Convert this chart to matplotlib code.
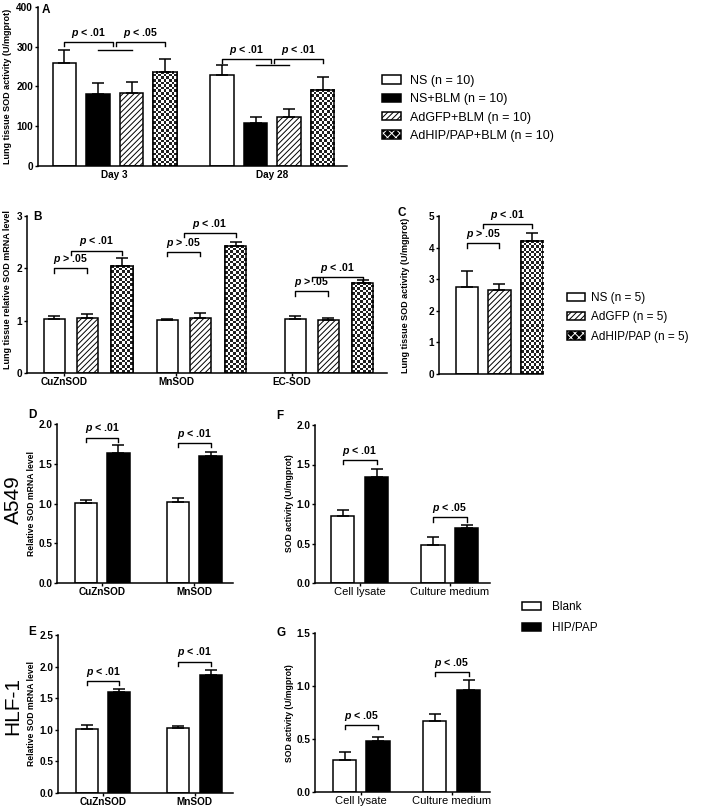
import numpy as np
import matplotlib
matplotlib.use('Agg')
import matplotlib.pyplot as plt
from matplotlib.patches import Patch
from matplotlib.ticker import FormatStrFormatter

W, H = 709, 808

plt.rcParams['font.family'] = ['Liberation Sans', 'DejaVu Sans']
plt.rcParams['font.weight'] = 'bold'
plt.rcParams['mathtext.fontset'] = 'custom'
plt.rcParams['mathtext.it'] = 'Liberation Sans:italic:bold'
plt.rcParams['mathtext.rm'] = 'Liberation Sans:bold'
plt.rcParams['hatch.linewidth'] = 0.7

# ---- data ----
# A: lung tissue SOD activity, day 3 / day 28
a_groups = ['NS (n = 10)', 'NS+BLM (n = 10)', 'AdGFP+BLM (n = 10)', 'AdHIP/PAP+BLM (n = 10)']
a_days = ['Day 3', 'Day 28']
a_mean = [260, 180, 184, 237, 228, 108, 123, 192]
a_sem = [32, 29, 28, 32, 25, 15, 20, 31]
a_sig = [(0, 1.45, 311, '<', '.01'), (1.55, 3, 311, '<', '.05'),
         (4, 5.45, 269, '<', '.01'), (5.55, 7, 269, '<', '.01')]
a_lines = [(1, 2, 292), (5, 6, 254)]

# B: lung tissue SOD mRNA
b_genes = ['CuZnSOD', 'MnSOD', 'EC-SOD']
b_mean = [1.03, 1.05, 2.05, 1.01, 1.05, 2.43, 1.03, 1.01, 1.72]
b_sem = [0.06, 0.07, 0.14, 0.03, 0.09, 0.08, 0.05, 0.05, 0.05]
b_sig = [(0, 1, 2.00, '>', '.05'), (0.5, 2, 2.34, '<', '.01'),
         (3, 4, 2.32, '>', '.05'), (3.5, 5, 2.67, '<', '.01'),
         (6, 7, 1.56, '>', '.05'), (6.5, 8, 1.84, '<', '.01')]

# C: lung tissue SOD activity
c_groups = ['NS (n = 5)', 'AdGFP (n = 5)', 'AdHIP/PAP (n = 5)']
c_mean = [2.74, 2.66, 4.21]
c_sem = [0.51, 0.20, 0.26]
c_sig = [(0, 1, 4.13, '>', '.05'), (0.5, 2, 4.74, '<', '.01')]

# D-G: cell lines
cell_groups = ['Blank', 'HIP/PAP']
gene_cats = ['CuZnSOD', 'MnSOD']
sample_cats = ['Cell lysate', 'Culture medium']
d_mean = [1.01, 1.64, 1.025, 1.60]
d_sem = [0.03, 0.09, 0.04, 0.05]
d_sig = [(0, 1, 1.83, '<', '.01'), (2, 3, 1.76, '<', '.01')]
e_mean = [1.02, 1.60, 1.025, 1.86]
e_sem = [0.06, 0.04, 0.035, 0.08]
e_sig = [(0, 1, 1.77, '<', '.01'), (2, 3, 2.08, '<', '.01')]
f_mean = [0.85, 1.34, 0.48, 0.69]
f_sem = [0.08, 0.10, 0.10, 0.04]
f_sig = [(0, 1, 1.56, '<', '.01'), (2, 3, 0.83, '<', '.05')]
g_mean = [0.30, 0.48, 0.67, 0.96]
g_sem = [0.08, 0.04, 0.07, 0.10]
g_sig = [(0, 1, 0.63, '<', '.05'), (2, 3, 1.13, '<', '.05')]

STYLE = {
    'white': dict(facecolor='white'),
    'black': dict(facecolor='black'),
    'hatch': dict(facecolor='white', hatch='//////'),
    'checker': dict(facecolor='white'),
}

fig = plt.figure(figsize=(W / 100, H / 100), dpi=100)


def add_ax(left, top, right, bottom, xlim, ylim, yticks, fmt=None):
    ax = fig.add_axes([left / W, 1 - bottom / H, (right - left) / W, (bottom - top) / H])
    ax.spines[['top', 'right']].set_visible(False)
    ax.spines[['left', 'bottom']].set_linewidth(1.1)
    ax.tick_params(axis='both', width=1, length=2.5, labelsize=7.2, pad=1)
    ax.tick_params(axis='x', pad=0.6)
    ax.set_xlim(*xlim)
    ax.set_ylim(*ylim)
    ax.set_yticks(yticks)
    if fmt:
        ax.yaxis.set_major_formatter(FormatStrFormatter(fmt))
    return ax


def add_checker(ax, rect, sq=2.6):
    x0, y0 = rect.get_x(), rect.get_y()
    x1, y1 = x0 + rect.get_width(), y0 + rect.get_height()
    (px0, py0), (px1, py1) = ax.transData.transform([(x0, y0), (x1, y1)])
    nx = max(1, int(round((px1 - px0) / sq)))
    ny = max(1, int(round((py1 - py0) / sq)))
    board = np.indices((ny, nx)).sum(axis=0) % 2
    ax.imshow(board, cmap='gray', vmin=-0.15, vmax=1, extent=(x0, x1, y0, y1), origin='lower',
              interpolation='nearest', aspect='auto', zorder=2.05)
    ax.bar(x0 + rect.get_width() / 2, rect.get_height(), rect.get_width(),
           fill=False, edgecolor='black', linewidth=1.1, zorder=2.1)


def draw_bars(ax, pos, mean, sem, kinds, width):
    for x, m, k in zip(pos, mean, kinds):
        b = ax.bar(x, m, width, edgecolor='black', linewidth=1.1, zorder=2, **STYLE[k])[0]
        if k == 'checker':
            add_checker(ax, b)
    ax.errorbar(pos, mean, yerr=[np.zeros(len(mean)), sem], fmt='none', ecolor='black',
                elinewidth=1.1, capsize=4, capthick=1.1, zorder=3)


def pos_at(pos, i):
    lo = int(np.floor(i))
    frac = i - lo
    if frac == 0:
        return pos[lo]
    return pos[lo] + frac * (pos[lo + 1] - pos[lo])


def brackets(ax, pos, sig, drop, fs=7.6):
    for i, j, y, op, val in sig:
        x1, x2 = pos_at(pos, i), pos_at(pos, j)
        ax.plot([x1, x1, x2, x2], [y - drop, y, y, y - drop], color='black', lw=1.0,
                clip_on=False, zorder=4)
        ax.annotate(f'$p$ {op} {val}', ((x1 + x2) / 2, y), xytext=(0, 1.5),
                    textcoords='offset points', ha='center', va='bottom',
                    fontsize=fs, fontweight='bold')


def ftext(x, y, s, **kw):
    fig.text(x / W, 1 - y / H, s, ha='center', va='center', **kw)


def legend_at(handles, labels, x, y, fs, hl, hh, tp, ls):
    fig.legend(handles, labels, loc='upper left', bbox_to_anchor=(x / W, 1 - y / H),
               frameon=False, prop=dict(size=fs, weight='normal'), handlelength=hl,
               handleheight=hh, handletextpad=tp, labelspacing=ls, borderpad=0,
               borderaxespad=0)


def handle(kind):
    if kind == 'checker':
        return (Patch(facecolor='black', edgecolor='white', hatch='xxxx', linewidth=0),
                Patch(facecolor='none', edgecolor='black', linewidth=1.1))
    return Patch(edgecolor='black', linewidth=1.1, **STYLE[kind])


# ---- A ----
a_kinds = ['white', 'black', 'hatch', 'checker'] * 2
a_pos = [0, 1, 2, 3, 4.7, 5.7, 6.7, 7.7]
ax = add_ax(38, 7, 347, 166, (-0.79, 8.43), (0, 400), [0, 100, 200, 300, 400])
draw_bars(ax, a_pos, a_mean, a_sem, a_kinds, 0.69)
ax.set_xticks([1.5, 6.2], a_days)
ax.tick_params(axis='x', length=0, pad=3)
brackets(ax, a_pos, a_sig, 10)
for i, j, y in a_lines:
    ax.plot([a_pos[i], a_pos[j]], [y, y], color='black', lw=1.0, zorder=4)
ftext(46, 10, 'A', fontsize=8.5)
ftext(8, 86, 'Lung tissue SOD activity (U/mgprot)', rotation=90, fontsize=6.5)
legend_at([handle(k) for k in a_kinds[:4]], a_groups, 382, 75, 9, 1.5, 0.65, 0.75, 0.5)

# ---- B ----
b_kinds = ['white', 'hatch', 'checker'] * 3
b_pos = [0, 1, 2.05, 3.42, 4.42, 5.5, 7.3, 8.3, 9.35]
ax = add_ax(27, 216, 387, 373, (-0.83, 10.08), (0, 3), [0, 1, 2, 3])
draw_bars(ax, b_pos, b_mean, b_sem, b_kinds, 0.64)
ax.set_xticks([0.3, 3.7, 7.2], b_genes)
brackets(ax, b_pos, b_sig, 0.08)
ftext(37, 217, 'B', fontsize=8.5)
ftext(8, 290, 'Lung tissue relative SOD mRNA level', rotation=90, fontsize=6.5)

# ---- C ----
c_kinds = ['white', 'hatch', 'checker']
c_pos = [0, 1, 2]
ax = add_ax(439, 216, 543, 374, (-0.86, 2.34), (0, 5), [0, 1, 2, 3, 4, 5])
draw_bars(ax, c_pos, c_mean, c_sem, c_kinds, 0.68)
ax.set_xticks([])
brackets(ax, c_pos, c_sig, 0.13)
ftext(402, 213, 'C', fontsize=8.5)
ftext(406, 295, 'Lung tissue SOD activity (U/mgprot)', rotation=90, fontsize=6.5)
legend_at([handle(k) for k in c_kinds], c_groups, 567, 292, 8.5, 1.55, 0.68, 0.5, 0.62)

# ---- D-G ----
cell_kinds = ['white', 'black'] * 2
panels = [
    # name, box, positions, xlim, ymax, step, means, sems, sig, cats, letter xy, ylabel, ylabel xy
    ('D', (57, 424, 233, 583), [0, 1, 2.83, 3.83], (-0.89, 4.52), 2.0, 0.5, d_mean, d_sem, d_sig,
     gene_cats, (32, 415), 'Relative SOD mRNA level', (32, 504)),
    ('E', (58, 635, 233, 793), [0, 1, 2.83, 3.83], (-0.89, 4.52), 2.5, 0.5, e_mean, e_sem, e_sig,
     gene_cats, (32, 632), 'Relative SOD mRNA level', (32, 714)),
    ('F', (315, 425, 490, 583), [0, 1, 2.66, 3.65], (-0.81, 4.34), 2.0, 0.5, f_mean, f_sem, f_sig,
     sample_cats, (280, 416), 'SOD activity (U/mgprot)', (290, 503)),
    ('G', (315, 633, 490, 792), [0, 1, 2.69, 3.7], (-0.88, 4.34), 1.5, 0.5, g_mean, g_sem, g_sig,
     sample_cats, (281, 633), 'SOD activity (U/mgprot)', (290, 713)),
]
for name, box, pos, xlim, ymax, step, mean, sem, sig, cats, lxy, ylab, yxy in panels:
    ax = add_ax(*box, xlim, (0, ymax), np.arange(0, ymax + 0.01, step), '%.1f')
    draw_bars(ax, pos, mean, sem, cell_kinds, 0.69)
    ax.set_xticks([(pos[0] + pos[1]) / 2, (pos[2] + pos[3]) / 2], cats)
    if cats is sample_cats:
        for t in ax.get_xticklabels():
            t.set_fontweight('normal')
            t.set_fontsize(8)
    brackets(ax, pos, sig, 0.026 * ymax)
    ftext(*lxy, name, fontsize=8.5)
    ftext(*yxy, ylab, rotation=90, fontsize=6.2)

ftext(13, 500, 'A549', rotation=90, fontsize=15, fontweight='normal')
ftext(13, 706, 'HLF-1', rotation=90, fontsize=15, fontweight='normal')
legend_at([handle(k) for k in cell_kinds[:2]], cell_groups, 522, 601, 8.5, 1.65, 0.68, 0.9, 0.75)

fig.savefig('out.png', dpi=100)
